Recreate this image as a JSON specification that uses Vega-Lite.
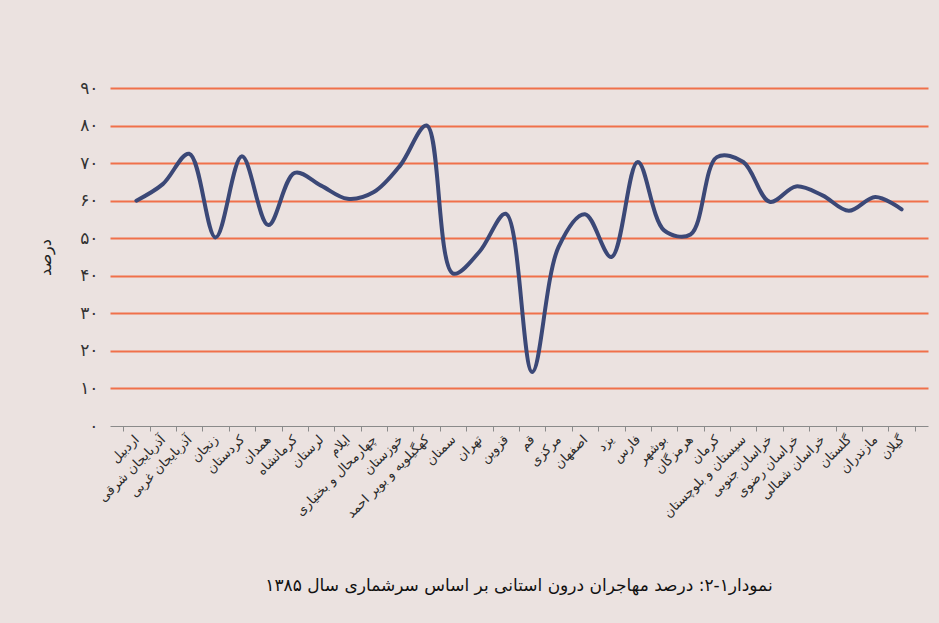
{
  "$schema": "https://vega.github.io/schema/vega-lite/v6.json",
  "width": 818,
  "height": 338,
  "autosize": {"type": "none"},
  "padding": {"left": 110, "top": 88, "right": 11, "bottom": 197},
  "background": "#ebe2e0",
  "config": {"view": {"stroke": null}, "font": "DejaVu Sans"},
  "title": {
    "text": "نمودار۱-۲: درصد مهاجران درون استانی بر اساس سرشماری سال ۱۳۸۵",
    "orient": "bottom",
    "anchor": "middle",
    "offset": 58,
    "fontSize": 17,
    "fontWeight": "normal",
    "color": "#111111",
    "font": "DejaVu Sans"
  },
  "data": {
    "values": [
      {"province": "اردبیل", "percent": 60},
      {"province": "آذربایجان شرقی", "percent": 64.4},
      {"province": "آذربایجان غربی", "percent": 72.5},
      {"province": "زنجان", "percent": 50.2},
      {"province": "کردستان", "percent": 71.8},
      {"province": "همدان", "percent": 53.5},
      {"province": "کرمانشاه", "percent": 67.4},
      {"province": "لرستان", "percent": 64},
      {"province": "ایلام", "percent": 60.5},
      {"province": "چهارمحال و بختیاری", "percent": 62.3},
      {"province": "خوزستان", "percent": 69.4},
      {"province": "کهگیلویه و بویر احمد", "percent": 80},
      {"province": "سمنان", "percent": 40.6},
      {"province": "تهران", "percent": 46.4},
      {"province": "قزوین", "percent": 56.5},
      {"province": "قم", "percent": 14.4},
      {"province": "مرکزی", "percent": 47.7},
      {"province": "اصفهان", "percent": 56.4},
      {"province": "یزد", "percent": 45},
      {"province": "فارس", "percent": 70.3},
      {"province": "بوشهر", "percent": 52.1},
      {"province": "هرمزگان", "percent": 51},
      {"province": "کرمان", "percent": 71.6},
      {"province": "سیستان و بلوچستان", "percent": 70.3},
      {"province": "خراسان جنوبی", "percent": 59.7},
      {"province": "خراسان رضوی", "percent": 63.8},
      {"province": "خراسان شمالی", "percent": 61.4},
      {"province": "گلستان", "percent": 57.3},
      {"province": "مازندران", "percent": 61},
      {"province": "گیلان", "percent": 57.7}
    ]
  },
  "mark": {
    "type": "line",
    "interpolate": "catmull-rom",
    "color": "#3b4877",
    "strokeWidth": 4,
    "strokeCap": "round"
  },
  "encoding": {
    "x": {
      "field": "province",
      "type": "nominal",
      "sort": null,
      "scale": {"paddingInner": 0, "paddingOuter": 0.5},
      "axis": {
        "title": null,
        "labelAngle": -45,
        "labelAlign": "right",
        "labelBaseline": "middle",
        "labelFontSize": 13,
        "labelColor": "#2a2a2a",
        "labelPadding": 6,
        "tickBand": "extent",
        "tickSize": 5,
        "tickColor": "#8a8a8a",
        "domainColor": "#8a8a8a",
        "grid": false
      }
    },
    "y": {
      "field": "percent",
      "type": "quantitative",
      "scale": {"domain": [0, 90], "nice": false},
      "axis": {
        "title": "درصد",
        "titleFontSize": 16,
        "titleFontWeight": "normal",
        "titleColor": "#222222",
        "titlePadding": 26,
        "values": [0, 10, 20, 30, 40, 50, 60, 70, 80, 90],
        "labelExpr": "['۰','۱۰','۲۰','۳۰','۴۰','۵۰','۶۰','۷۰','۸۰','۹۰'][round(datum.value/10)]",
        "labelFontSize": 17,
        "labelColor": "#333333",
        "labelPadding": 12,
        "ticks": false,
        "domain": false,
        "grid": true,
        "gridColor": {"condition": {"test": "datum.value === 0", "value": "transparent"}, "value": "#f0704a"},
        "gridWidth": 2,
        "gridOpacity": 1
      }
    }
  }
}
